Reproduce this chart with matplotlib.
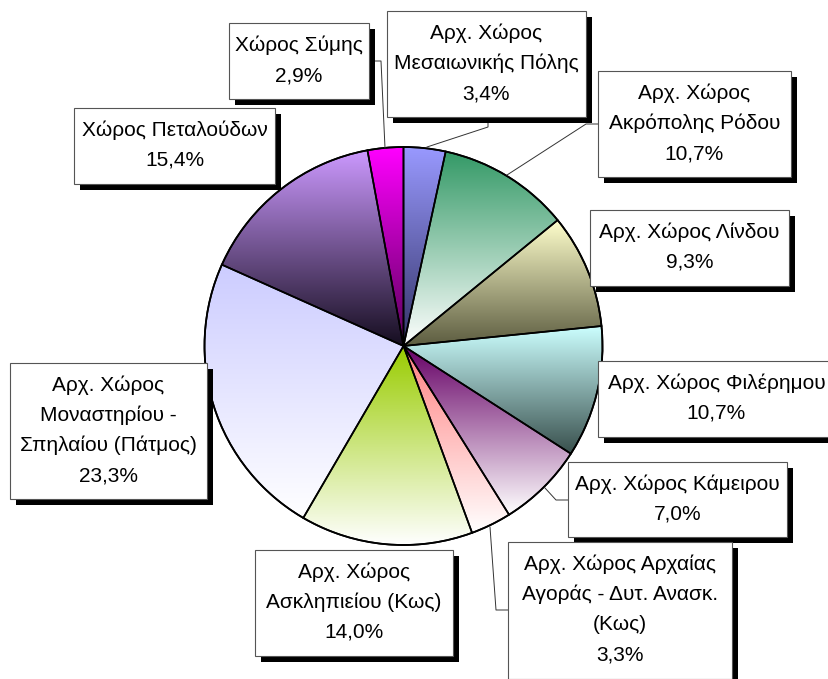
import numpy as np
import matplotlib.pyplot as plt
from matplotlib.colors import to_rgb
from matplotlib.patches import Rectangle

# ========== DATA ==========
labels = [
    "Αρχ. Χώρος\nΜεσαιωνικής Πόλης",
    "Αρχ. Χώρος\nΑκρόπολης Ρόδου",
    "Αρχ. Χώρος Λίνδου",
    "Αρχ. Χώρος Φιλέρημου",
    "Αρχ. Χώρος Κάμειρου",
    "Αρχ. Χώρος Αρχαίας\nΑγοράς - Δυτ. Ανασκ.\n(Κως)",
    "Αρχ. Χώρος\nΑσκληπιείου (Κως)",
    "Αρχ. Χώρος\nΜοναστηρίου -\nΣπηλαίου (Πάτμος)",
    "Χώρος Πεταλούδων",
    "Χώρος Σύμης",
]
shares = [3.4, 10.7, 9.3, 10.7, 7.0, 3.3, 14.0, 23.3, 15.4, 2.9]

# gradient colours per slice (top of slice -> bottom of slice)
top_colors = ["#9999ff", "#339966", "#ffffcc", "#ccffff", "#660066",
              "#ff8080", "#99cc00", "#ccccff", "#cc99ff", "#ff00ff"]
bottom_colors = ["#333366", "#ffffff", "#5c5c40", "#384f4c", "#ffffff",
                 "#ffffff", "#ffffff", "#ffffff", "#150d1f", "#5a005a"]
# ==========================

# layout in pixels (x0, y0, x1, y1), y measured from top
boxes = [
    (387, 11, 586, 117),
    (598, 71, 791, 177),
    (590, 210, 789, 286),
    (598, 361, 835, 437),
    (568, 462, 787, 537),
    (508, 542, 732, 679),
    (255, 550, 453, 656),
    (10, 363, 207, 499),
    (74, 108, 275, 184),
    (229, 23, 369, 99),
]
leaders = {
    0: [(488, 117), (488, 127), (427, 147)],
    1: [(598, 124), (586, 124), (507, 175)],
    4: [(568, 500), (556, 500), (545, 488)],
    5: [(508, 610), (496, 610), (490, 527)],
    9: [(369, 61), (381, 61), (385, 148)],
}

W, H = 829, 679
CX, CY, R = 403.5, 346, 199
LINE_PITCH = 30
SHADOW = 6

fig = plt.figure(figsize=(W / 100, H / 100), dpi=100)
ax = fig.add_axes([0, 0, 1, 1])

wedges, _ = ax.pie(shares, startangle=90, counterclock=False,
                   center=(CX, H - CY), radius=R,
                   wedgeprops=dict(edgecolor="black", linewidth=1.2))

for w, c_top, c_bot in zip(wedges, top_colors, bottom_colors):
    w.set_facecolor("none")
    ext = w.get_path().get_extents()
    t = np.linspace(0, 1, 256)[:, None]
    grad = (1 - t) * np.array(to_rgb(c_top)) + t * np.array(to_rgb(c_bot))
    img = ax.imshow(grad[:, None, :], extent=[ext.x0, ext.x1, ext.y0, ext.y1],
                    origin="upper", aspect="auto", interpolation="bilinear",
                    zorder=0.5)
    img.set_clip_path(w)
    w.set_zorder(1)

# outer outline
ax.add_patch(plt.Circle((CX, H - CY), R, fill=False, edgecolor="black",
                        linewidth=1.3, zorder=2))

# leader lines
for pts in leaders.values():
    xs = [p[0] for p in pts]
    ys = [H - p[1] for p in pts]
    ax.plot(xs, ys, color="#333333", linewidth=0.7, zorder=3)

# label boxes with shadow
for lab, share, (x0, y0, x1, y1) in zip(labels, shares, boxes):
    ax.add_patch(Rectangle((x0 + SHADOW, H - y1 - SHADOW), x1 - x0, y1 - y0,
                           facecolor="black", edgecolor="none", zorder=4))
    ax.add_patch(Rectangle((x0, H - y1), x1 - x0, y1 - y0,
                           facecolor="white", edgecolor="#555555",
                           linewidth=0.8, zorder=5))
    lines = lab.split("\n") + [f"{share:.1f}%".replace(".", ",")]
    yc = (y0 + y1) / 2
    n = len(lines)
    for i, ln in enumerate(lines):
        ly = yc + (i - (n - 1) / 2) * LINE_PITCH + 5
        ax.text((x0 + x1) / 2, H - ly, ln, ha="center", va="baseline",
                fontsize=15, family="Liberation Sans", color="black",
                zorder=6)

ax.set_xlim(0, W)
ax.set_ylim(0, H)
ax.set_aspect("equal")
ax.axis("off")

fig.savefig("out.png", dpi=100, facecolor="white")
